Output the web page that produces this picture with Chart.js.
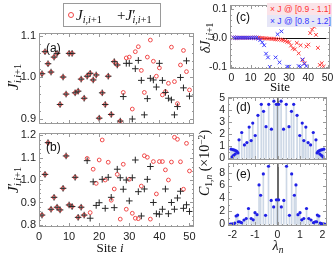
<!DOCTYPE html>
<html>
<head>
<meta charset="utf-8">
<script src="https://cdn.jsdelivr.net/npm/chart.js@4.4.1/dist/chart.umd.min.js"></script>
<style>
html, body { margin: 0; padding: 0; background: #fff; }
#wrap { position: relative; width: 335px; height: 256px; overflow: hidden; }
canvas { position: absolute; left: 0; top: 0; }
.t { position: absolute; white-space: nowrap; color: #111; font-family: "Liberation Serif", serif; line-height: 1; }
.rot { transform: translate(-50%, -50%) rotate(-90deg); }
.ctr { transform: translate(-50%, -50%); }
.pl { font-family: "Liberation Sans", sans-serif; font-size: 12px; }
sub { font-size: 68%; vertical-align: -0.3em; line-height: 0; }
sup { font-size: 68%; vertical-align: 0.45em; line-height: 0; }
#leg { position: absolute; left: 63px; top: 3px; width: 96px; height: 22px; border: 1px solid #9a9a9a; background: #fff; }
#leg .mk { position: absolute; top: 8px; width: 4px; height: 4px; border: 1px solid #f04848; border-radius: 50%; }
#legc { position: absolute; left: 267px; top: 3px; width: 65px; font-family: "Liberation Sans", sans-serif; font-size: 8.5px; }
#legc div { height: 12px; line-height: 12px; padding-left: 3px; white-space: nowrap; }
</style>
</head>
<body>
<div id="wrap">
  <canvas id="ca" width="335" height="256"></canvas>
  <canvas id="cb" width="335" height="256"></canvas>
  <canvas id="cc" width="335" height="256"></canvas>
  <canvas id="cd" width="335" height="256"></canvas>
  <canvas id="ce" width="335" height="256"></canvas>

  <div id="leg">
    <span class="mk" style="left:4px"></span>
    <span class="t" style="left:12px;top:4px;font-size:15px"><i>J</i><sub><i>i</i>,<i>i</i>+1</sub></span>
    <span class="t" style="left:53px;top:4px;font-size:15px">+<i>J</i>′<sub style="margin-left:-3px"><i>i</i>,<i>i</i>+1</sub></span>
  </div>

  <div class="t pl" style="left:46px;top:42px">(a)</div>
  <div class="t pl" style="left:46px;top:141px">(b)</div>
  <div class="t pl" style="left:236px;top:11px">(c)</div>
  <div class="t pl" style="left:236px;top:101px">(d)</div>
  <div class="t pl" style="left:236px;top:168px">(e)</div>

  <div class="t rot" style="left:13px;top:77px;font-size:15px"><i>J</i>′<sub style="margin-left:-3px"><i>i</i>,<i>i</i>+1</sub></div>
  <div class="t rot" style="left:13px;top:180px;font-size:15px"><i>J</i>′<sub style="margin-left:-3px"><i>i</i>,<i>i</i>+1</sub></div>
  <div class="t ctr" style="left:110px;top:247px;font-size:13px">Site <i>i</i></div>
  <div class="t rot" style="left:206px;top:38px;font-size:14px"><i>δJ</i><sub><i>i</i>,<i>i</i>+1</sub></div>
  <div class="t ctr" style="left:280px;top:86px;font-size:13px">Site</div>
  <div class="t rot" style="left:205px;top:163px;font-size:14px"><i>C</i><sub>1,<i>n</i></sub> (×10<sup>−2</sup>)</div>
  <div class="t ctr" style="left:278px;top:246px;font-size:14px"><i>λ</i><sub><i>n</i></sub></div>

  <div id="legc">
    <div style="background:#fbe3e8;color:#ff3333">× J @ [0.9 - 1.1]</div>
    <div style="background:#e6e6f7;color:#3535ff">× J @ [0.8 - 1.2]</div>
  </div>
</div>

<script>
// site index for panels (a), (b), (c)
const sites = [1,2,3,4,5,6,7,8,9,10,11,12,13,14,15,16,17,18,19,20,21,22,23,24,25,
  26,27,28,29,30,31,32,33,34,35,36,37,38,39,40,41,42,43,44,45,46,47,48,49,50];

// (a) couplings drawn from [0.9, 1.1]
const jA = [1.009,1.062,1.033,1.013,1.049,1.058,0.935,1.001,0.960,1.058,1.058,0.963,0.967,0.996,0.950,
  1.003,1.010,0.994,1.006,0.902,0.963,0.935,1.003,0.911,1.038,1.030,0.895,0.964,1.047,1.049,
  0.924,1.062,1.074,1.017,0.964,1.049,1.090,1.039,1.003,1.023,0.958,0.966,0.986,1.073,0.990,
  0.937,1.030,1.065,1.014,0.970];
const jpA = [1.009,1.062,1.033,1.013,1.049,1.058,0.935,1.001,0.960,1.058,1.058,0.963,0.967,0.996,0.950,
  1.003,1.010,0.994,1.006,0.902,0.963,0.935,1.003,0.911,1.038,1.030,0.895,0.954,1.034,1.034,
  0.900,1.021,1.041,0.993,0.910,0.949,0.998,0.994,0.977,1.034,0.993,0.964,0.950,0.946,0.910,
  0.930,1.000,0.975,1.040,0.955];

// (b) couplings drawn from [0.8, 1.2]
const jB = [0.844,1.025,1.166,0.870,0.923,0.879,0.867,0.963,1.107,0.889,0.882,1.012,0.834,0.879,0.844,
  1.096,0.855,1.048,0.985,1.089,1.178,1.000,1.079,0.910,0.960,1.025,0.826,1.070,0.870,1.003,
  0.852,0.830,0.828,0.973,1.108,1.101,0.826,1.082,0.938,1.082,1.082,1.045,1.000,1.080,1.190,
  1.181,1.081,0.959,1.163,1.040];
const jpB = [0.844,1.025,1.166,0.870,0.923,0.879,0.867,0.963,1.107,0.889,0.882,1.012,0.834,0.879,0.844,
  1.086,0.830,0.992,0.887,0.899,1.003,0.874,1.012,0.923,0.877,1.048,1.010,0.959,1.000,0.907,
  1.010,1.089,0.948,0.840,0.960,1.003,1.060,0.900,0.850,0.848,0.870,0.960,0.850,0.900,0.870,
  0.920,0.950,0.874,0.890,0.860];

// (c) coupling deviation, null = outside the plotted range
const dJred = [0,0,0,0,0,0,0,0,0,0,0,0,0,0,-0.001,-0.001,-0.002,-0.002,-0.003,-0.003,
  -0.004,-0.004,-0.005,-0.006,-0.006,-0.007,-0.009,-0.011,-0.014,-0.016,-0.027,-0.037,-0.040,-0.018,-0.054,
  -0.026,-0.077,-0.088,-0.030,-0.024,0.016,0.028,0.038,0.010,-0.035,-0.094,-0.088,-0.100,null,null];
const dJblue = [0,0,0,0,0,0,0,0,0,0,0,0,0,-0.003,-0.008,-0.016,-0.026,-0.055,-0.068,-0.101,
  null,null,-0.068,0.012,-0.085,0.022,null,null,-0.100,-0.100,null,null,null,null,-0.098,
  -0.100,-0.075,-0.090,-0.098,null,null,null,null,null,null,null,null,null,null,null];

// (d) eigenvalues and weights C_{1,n} (x 1e-2), chain (a)
const lamD = [-2.06,-2.02,-1.98,-1.95,-1.91,-1.88,-1.84,-1.80,-1.76,-1.71,-1.59,-1.47,-1.36,-1.26,-1.17,
  -1.10,-0.99,-0.87,-0.72,-0.62,-0.51,-0.39,-0.27,-0.16,-0.05,
  0.05,0.16,0.27,0.39,0.51,0.62,0.72,0.87,0.99,1.10,1.17,1.26,1.36,1.47,1.59,
  1.71,1.76,1.80,1.84,1.88,1.91,1.95,1.98,2.02,2.06];
const cD = [0.76,0.12,0.72,0.25,0.68,0.36,0.62,0.55,0.45,1.54,2.15,1.12,1.31,2.60,1.48,
  2.94,1.90,3.58,4.50,3.92,2.64,4.50,2.43,4.76,4.50,
  4.50,4.76,2.43,4.50,2.64,3.92,4.50,3.58,1.90,2.94,1.48,2.60,1.31,1.12,2.15,
  1.54,0.45,0.55,0.62,0.36,0.68,0.25,0.72,0.12,0.76];

// (e) same for chain (b)
const lamE = [-2.10,-2.05,-2.00,-1.95,-1.90,-1.84,-1.77,-1.74,-1.68,-1.60,-1.49,-1.39,-1.29,-1.17,-1.08,
  -1.00,-0.91,-0.82,-0.75,-0.63,-0.53,-0.40,-0.28,-0.17,-0.05,
  0.05,0.17,0.28,0.40,0.53,0.63,0.75,0.82,0.91,1.00,1.08,1.17,1.29,1.39,1.49,
  1.60,1.68,1.74,1.77,1.84,1.90,1.95,2.00,2.05,2.10];
const cE = [0.05,0.05,0.05,0.10,0.20,1.29,1.44,0.40,0.40,0.25,0.67,0.90,2.45,0.90,0.70,
  1.80,1.50,6.10,4.50,7.80,1.40,9.00,3.70,2.70,3.80,
  3.80,2.70,3.70,9.00,1.40,7.80,4.50,6.10,1.50,1.80,0.70,0.90,2.45,0.90,0.67,
  0.25,0.40,0.40,1.44,1.29,0.20,0.10,0.05,0.05,0.05];

// tick labels
const xTicksSite = [0, 10, 20, 30, 40, 50];
const yTicksA = [0.9, 1.0, 1.1];
const yTicksB = [0.8, 0.9, 1.0, 1.1, 1.2];
const yTicksC = [-0.1, 0.0, 0.1];
const xTicksLam = [-2, -1, 0, 1, 2];
const yTicksD = [0, 1, 2, 3, 4, 5];
const yTicksE = [0, 2, 4, 6, 8];

function steps(a, b, d) {
  const out = [];
  for (let v = a; v <= b + 1e-9; v += d) out.push(+v.toFixed(4));
  return out;
}
const pts = (xs, ys) => xs.map((x, i) => ({ x: x, y: ys[i] }));

// Mathematica-like frame: grey box with inward ticks, optional zero line
const framePlugin = {
  id: 'frame',
  beforeDatasetsDraw(chart, args, o) {
    const { ctx, chartArea: a, scales: { x, y } } = chart;
    ctx.save();
    if (o.zeroY) {
      const py = Math.round(y.getPixelForValue(0)) + 0.5;
      ctx.strokeStyle = '#111'; ctx.lineWidth = 1;
      ctx.beginPath(); ctx.moveTo(a.left, py); ctx.lineTo(a.right, py); ctx.stroke();
    }
    if (o.zeroX) {
      const px = Math.round(x.getPixelForValue(0));
      ctx.strokeStyle = '#444'; ctx.lineWidth = 1.6;
      ctx.beginPath(); ctx.moveTo(px, a.top); ctx.lineTo(px, a.bottom); ctx.stroke();
    }
    ctx.restore();
  },
  afterDraw(chart, args, o) {
    const { ctx, chartArea: a, scales: { x, y } } = chart;
    ctx.save();
    ctx.strokeStyle = '#999'; ctx.lineWidth = 1;
    ctx.strokeRect(a.left + 0.5, a.top + 0.5, a.right - a.left - 1, a.bottom - a.top - 1);
    ctx.beginPath();
    const tx = (v, len) => {
      const p = Math.round(x.getPixelForValue(v)) + 0.5;
      if (p < a.left || p > a.right) return;
      ctx.moveTo(p, a.bottom); ctx.lineTo(p, a.bottom - len);
      ctx.moveTo(p, a.top); ctx.lineTo(p, a.top + len);
    };
    const ty = (v, len) => {
      const p = Math.round(y.getPixelForValue(v)) + 0.5;
      if (p < a.top || p > a.bottom) return;
      ctx.moveTo(a.left, p); ctx.lineTo(a.left + len, p);
      ctx.moveTo(a.right, p); ctx.lineTo(a.right - len, p);
    };
    o.xMinor.forEach(v => tx(v, 2)); o.xMajor.forEach(v => tx(v, 4));
    o.yMinor.forEach(v => ty(v, 2)); o.yMajor.forEach(v => ty(v, 4));
    ctx.stroke();
    ctx.restore();
  }
};

function panel(id, box, c) {
  const yw = 30, xh = c.xLabels ? 14 : 0;
  const font = { family: 'Liberation Sans', size: c.fontSize || 11 };
  return new Chart(document.getElementById(id), {
    type: 'scatter',
    data: { datasets: c.datasets },
    options: {
      responsive: false,
      animation: false,
      events: [],
      layout: { padding: { left: box[0] - yw, top: box[1], right: 335 - box[2], bottom: 256 - box[3] - xh } },
      plugins: {
        legend: { display: false },
        tooltip: { enabled: false },
        frame: c.frame
      },
      scales: {
        x: {
          type: 'linear', min: c.xMin, max: c.xMax, offset: false,
          grid: { display: false, drawTicks: false },
          border: { display: false },
          ticks: { display: !!c.xLabels, padding: 3, font: font, color: '#222', maxRotation: 0, autoSkip: false,
                   callback: v => String(v) },
          afterBuildTicks: s => { s.ticks = (c.xLabels || [0]).map(v => ({ value: v })); },
          afterFit: s => { s.height = xh; s.paddingLeft = 0; s.paddingRight = 0; }
        },
        y: {
          type: 'linear', min: c.yMin, max: c.yMax,
          grid: { display: false, drawTicks: false },
          border: { display: false },
          ticks: { padding: 3, font: font, color: '#222', autoSkip: false,
                   callback: v => c.yFmt ? v.toFixed(c.yFmt) : String(v) },
          afterBuildTicks: s => { s.ticks = c.yLabels.map(v => ({ value: v })); },
          afterFit: s => { s.width = yw; s.paddingTop = 0; s.paddingBottom = 0; }
        }
      }
    },
    plugins: [framePlugin]
  });
}

function jDatasets(j, jp) {
  return [
    { data: pts(sites, jp), pointStyle: 'cross', pointRadius: 3.3, borderColor: '#262626',
      borderWidth: 1, order: 0 },
    { data: pts(sites, j), pointStyle: 'circle', pointRadius: 1.9, borderColor: '#f04848',
      backgroundColor: 'rgba(0,0,0,0)', borderWidth: 1, order: 1 }
  ];
}

function stemDatasets(lam, cv) {
  return [
    { type: 'scatter', data: pts(lam, cv), pointStyle: 'circle', pointRadius: 1.6,
      backgroundColor: '#2020e6', borderWidth: 0, order: 0 },
    { type: 'bar', data: pts(lam, cv), backgroundColor: '#cdd8e6', borderWidth: 0,
      barThickness: 1, order: 1 }
  ];
}

panel('ca', [39, 33, 194, 124], {
  xMin: 0, xMax: 51.5, yMin: 0.888, yMax: 1.107,
  yLabels: yTicksA, yFmt: 1,
  datasets: jDatasets(jA, jpA),
  frame: { xMajor: xTicksSite, xMinor: steps(0, 50, 2), yMajor: yTicksA, yMinor: steps(0.9, 1.1, 0.02) }
});

panel('cb', [39, 133, 194, 227], {
  xMin: 0, xMax: 51.5, yMin: 0.791, yMax: 1.209,
  xLabels: xTicksSite, yLabels: yTicksB, yFmt: 1,
  datasets: jDatasets(jB, jpB),
  frame: { xMajor: xTicksSite, xMinor: steps(0, 50, 2), yMajor: yTicksB, yMinor: steps(0.8, 1.2, 0.02) }
});

panel('cc', [230, 4, 331, 69], {
  xMin: -0.77, xMax: 51.3, yMin: -0.108, yMax: 0.113, fontSize: 10.5,
  xLabels: xTicksSite, yLabels: yTicksC, yFmt: 1,
  datasets: [
    { data: pts(sites, dJblue), pointStyle: 'crossRot', pointRadius: 2.6, borderColor: '#3838ff',
      borderWidth: 1, order: 0 },
    { data: pts(sites, dJred), pointStyle: 'crossRot', pointRadius: 2.6, borderColor: '#ff3838',
      borderWidth: 1, order: 1 }
  ],
  frame: { zeroY: true, xMajor: xTicksSite, xMinor: steps(0, 50, 2), yMajor: yTicksC, yMinor: steps(-0.1, 0.1, 0.02) }
});

panel('cd', [228, 97, 327, 160], {
  xMin: -2.2, xMax: 2.2, yMin: -0.14, yMax: 5.11, fontSize: 10.5,
  yLabels: yTicksD,
  datasets: stemDatasets(lamD, cD),
  frame: { zeroX: true, xMajor: xTicksLam, xMinor: steps(-2.2, 2.2, 0.2), yMajor: yTicksD, yMinor: steps(0, 5, 0.5) }
});

panel('ce', [228, 163, 327, 226], {
  xMin: -2.2, xMax: 2.2, yMin: -0.26, yMax: 9.5, fontSize: 10.5,
  xLabels: xTicksLam, yLabels: yTicksE,
  datasets: stemDatasets(lamE, cE),
  frame: { zeroX: true, xMajor: xTicksLam, xMinor: steps(-2.2, 2.2, 0.2), yMajor: yTicksE, yMinor: steps(0, 9, 1) }
});
</script>
</body>
</html>
